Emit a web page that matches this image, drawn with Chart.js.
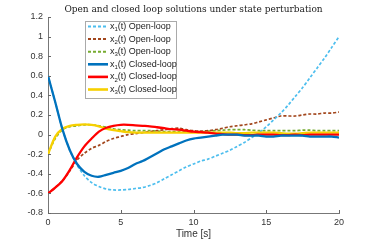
<!DOCTYPE html>
<html>
<head>
<meta charset="utf-8">
<script src="https://cdn.jsdelivr.net/npm/chart.js@4/dist/chart.umd.min.js"></script>
<style>
  html, body { margin: 0; padding: 0; background: #fff; }
  #wrap { width: 374px; height: 240px; }
</style>
</head>
<body>
<div id="wrap"><canvas id="myChart" width="374" height="240"></canvas></div>
<script>
var tiempo = [0,0.5,1,1.5,2,2.5,3,3.5,4,4.5,5,5.5,6,6.5,7,7.5,8,8.5,9,9.5,10,10.5,11,11.5,12,12.5,13,13.5,14,14.5,15,15.5,16,16.5,17,17.5,18,18.5,19,19.5,20];

var x1Open = [0.60,0.33,0.05,-0.16,-0.31,-0.42,-0.49,-0.53,-0.555,-0.565,-0.565,-0.56,-0.55,-0.54,-0.52,-0.49,-0.45,-0.41,-0.37,-0.33,-0.30,-0.27,-0.25,-0.22,-0.19,-0.16,-0.12,-0.08,-0.03,0.02,0.08,0.15,0.22,0.30,0.39,0.48,0.58,0.68,0.78,0.89,1.0];
var x2Open = [-0.60,-0.54,-0.47,-0.37,-0.26,-0.19,-0.14,-0.11,-0.07,-0.04,-0.02,0.0,0.01,0.02,0.03,0.04,0.05,0.06,0.065,0.05,0.04,0.035,0.04,0.05,0.065,0.08,0.09,0.10,0.11,0.13,0.15,0.17,0.19,0.19,0.19,0.20,0.21,0.21,0.22,0.22,0.23];
var x3Open = [-0.20,-0.04,0.05,0.08,0.09,0.10,0.10,0.09,0.075,0.06,0.05,0.045,0.04,0.04,0.04,0.035,0.03,0.03,0.03,0.03,0.03,0.03,0.035,0.04,0.045,0.05,0.05,0.05,0.045,0.04,0.04,0.04,0.04,0.04,0.04,0.045,0.045,0.04,0.04,0.04,0.04];
var x1Closed = [0.60,0.33,0.05,-0.16,-0.30,-0.38,-0.42,-0.43,-0.41,-0.39,-0.37,-0.34,-0.30,-0.27,-0.23,-0.19,-0.15,-0.12,-0.09,-0.06,-0.04,-0.03,-0.02,-0.01,0.0,0.0,0.0,-0.01,-0.01,-0.01,-0.02,-0.02,-0.01,-0.01,-0.01,-0.01,-0.02,-0.02,-0.02,-0.02,-0.03];
var x2Closed = [-0.60,-0.54,-0.47,-0.36,-0.23,-0.12,-0.04,0.03,0.07,0.09,0.10,0.10,0.095,0.09,0.085,0.075,0.065,0.055,0.05,0.04,0.03,0.025,0.02,0.01,0.005,0.0,0.0,-0.005,-0.005,0.0,0.0,0.0,-0.005,-0.005,0.0,-0.005,0.0,0.0,0.0,0.0,0.0];
var x3Closed = [-0.20,-0.02,0.06,0.09,0.10,0.105,0.10,0.085,0.06,0.045,0.035,0.025,0.02,0.02,0.02,0.02,0.02,0.02,0.02,0.02,0.02,0.02,0.02,0.02,0.02,0.02,0.015,0.015,0.02,0.02,0.02,0.02,0.015,0.01,0.01,0.015,0.02,0.02,0.02,0.02,0.02];

var xTicks = [0,5,10,15,20];
var yTicks = [-0.8,-0.6,-0.4,-0.2,0,0.2,0.4,0.6,0.8,1,1.2];

var titulo = "Open and closed loop solutions under state perturbation";
var etiquetaX = "Time [s]";

function pares(ys) {
  return tiempo.map(function (t, i) { return { x: t, y: ys[i] }; });
}

function serie(label, num, data, color, dashed) {
  return {
    label: label,
    num: num,
    data: pares(data),
    borderColor: color,
    backgroundColor: color,
    borderWidth: dashed ? 1.7 : 2.3,
    borderDash: dashed ? [3, 2] : [],
    pointRadius: 0,
    tension: 0.3,
    fill: false
  };
}

const datasets = [
  serie("Open-loop", "1", x1Open, "#4DBEEE", true),
  serie("Open-loop", "2", x2Open, "#A2461C", true),
  serie("Open-loop", "3", x3Open, "#77AC30", true),
  serie("Closed-loop", "1", x1Closed, "#0072BD", false),
  serie("Closed-loop", "2", x2Closed, "#FF0000", false),
  serie("Closed-loop", "3", x3Closed, "#F7D000", false)
];

// open loop drawn on top, like the picture
const ordered = [datasets[3], datasets[4], datasets[5], datasets[0], datasets[1], datasets[2]];

const extras = {
  id: "extras",
  afterDraw(chart) {
    const ctx = chart.ctx;
    const a = chart.chartArea;
    const xs = chart.scales.x;
    const ys = chart.scales.y;
    ctx.save();
    // inward ticks
    ctx.strokeStyle = "#666";
    ctx.lineWidth = 1;
    ctx.beginPath();
    yTicks.forEach(function (v) {
      const p = Math.round(ys.getPixelForValue(v)) + 0.5;
      ctx.moveTo(a.left, p);
      ctx.lineTo(a.left + 3, p);
    });
    xTicks.forEach(function (v) {
      const p = Math.round(xs.getPixelForValue(v)) + 0.5;
      ctx.moveTo(p, a.bottom);
      ctx.lineTo(p, a.bottom - 3);
    });
    ctx.stroke();

    // title
    ctx.fillStyle = "#222";
    ctx.font = "9px 'DejaVu Serif', 'Liberation Serif', serif";
    ctx.textAlign = "center";
    ctx.textBaseline = "middle";
    ctx.fillText(titulo, (a.left + a.right) / 2, 10);

    // legend
    const bx = 85, by = 21, bw = 91, bh = 77;
    ctx.fillStyle = "#fff";
    ctx.fillRect(bx, by, bw, bh);
    ctx.strokeStyle = "#aaa";
    ctx.strokeRect(bx + 0.5, by + 0.5, bw, bh);
    datasets.forEach(function (ds, i) {
      const yy = 26.5 + i * 12.6;
      ctx.strokeStyle = ds.borderColor;
      ctx.lineWidth = ds.borderWidth + 0.3;
      ctx.setLineDash(ds.borderDash);
      ctx.beginPath();
      ctx.moveTo(88, yy);
      ctx.lineTo(108, yy);
      ctx.stroke();
      ctx.setLineDash([]);
      ctx.fillStyle = "#222";
      ctx.textAlign = "left";
      ctx.textBaseline = "middle";
      ctx.font = "9px 'Liberation Sans', Arial, sans-serif";
      ctx.fillText("x", 110, yy);
      let w = ctx.measureText("x").width;
      ctx.font = "6px 'Liberation Sans', Arial, sans-serif";
      ctx.fillText(ds.num, 110 + w, yy + 3);
      w += ctx.measureText(ds.num).width;
      ctx.font = "9px 'Liberation Sans', Arial, sans-serif";
      ctx.fillText("(t) " + ds.label, 110 + w, yy);
    });
    ctx.restore();
  }
};

const config = {
  type: "line",
  data: { datasets: ordered },
  options: {
    responsive: false,
    animation: false,
    layout: { padding: { left: 0, right: 35, top: 17, bottom: 0 } },
    plugins: {
      legend: { display: false },
      tooltip: { enabled: false }
    },
    scales: {
      x: {
        type: "linear",
        min: 0,
        max: 20,
        afterBuildTicks: function (s) { s.ticks = xTicks.map(function (v) { return { value: v }; }); },
        afterFit: function (s) { s.height = 27; },
        grid: { display: false, drawTicks: false },
        border: { display: true, color: "#777", width: 1 },
        ticks: { color: "#333", padding: 4, font: { family: "'Liberation Sans', Arial, sans-serif", size: 9 }, maxRotation: 0 },
        title: { display: true, text: etiquetaX, color: "#333", padding: { top: 0, bottom: 0 }, font: { family: "'Liberation Sans', Arial, sans-serif", size: 10 } }
      },
      y: {
        min: -0.8,
        max: 1.2,
        afterBuildTicks: function (s) { s.ticks = yTicks.map(function (v) { return { value: v }; }); },
        afterFit: function (s) { s.width = 48; },
        grid: { display: false, drawTicks: false },
        border: { display: true, color: "#777", width: 1 },
        ticks: {
          color: "#333",
          padding: 5,
          font: { family: "'Liberation Sans', Arial, sans-serif", size: 9 },
          callback: function (v) { return String(Math.round(v * 10) / 10); }
        }
      }
    }
  },
  plugins: [extras]
};

let miGrafico = new Chart(document.getElementById("myChart"), config);
</script>
</body>
</html>
